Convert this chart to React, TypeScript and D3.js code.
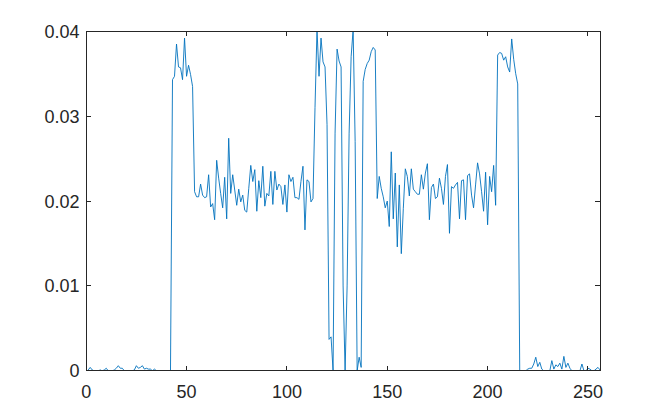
import React from "react";
import * as d3 from "d3";

// Series values for x = 1..256
const headValues = [
  0.0001, 0.0004, 0.0001, 0, 0, 0, 0.0001, 0, 0.0001, 0.0003,
  0, 0, 0, 0.0001, 0.0003, 0.0006, 0.0003, 0.0003, 0, 0,
  0, 0, 0, 0.0001, 0.0006, 0.0003, 0.0004, 0.0006, 0.0002, 0.0003,
  0.0002, 0.0002, 0, 0.0002, 0, 0, 0, 0, 0, 0,
  0, 0,
];
const highA = [0.0343, 0.0347, 0.0385, 0.0358, 0.0357, 0.0343, 0.0392, 0.0347, 0.036, 0.0349, 0.0335];
const noiseA = [
  0.0211, 0.0205, 0.0205, 0.022, 0.0207, 0.0204, 0.0205, 0.0231, 0.0193, 0.0197,
  0.0178, 0.0248, 0.0227, 0.0209, 0.0192, 0.0228, 0.0179, 0.0274, 0.0209, 0.0231,
  0.0213, 0.0195, 0.0214, 0.0199, 0.0207, 0.0189, 0.0187, 0.0215, 0.0242, 0.0223,
  0.0237, 0.0188, 0.0224, 0.0204, 0.0241, 0.0194, 0.0209, 0.0206, 0.0235, 0.0196,
  0.0235, 0.0213, 0.022, 0.0217, 0.0196, 0.0219, 0.0187, 0.0231, 0.0223, 0.0228,
  0.0204, 0.0204, 0.0202, 0.0223, 0.0241, 0.0166, 0.0225, 0.0223, 0.0199, 0.0203,
];
const middleValues = [
  0.031, 0.0402, 0.0347, 0.0392, 0.0364, 0.0358, 0.029, 0.0037, 0.004, 0.0,
  0.028, 0.0379, 0.0365, 0.0358, 0.01, 0.0, 0.01, 0.028, 0.037, 0.0402,
  0.027, 0.0, 0.0016, 0.0004, 0.0341, 0.0355, 0.0362, 0.0366, 0.0376, 0.0381,
  0.0378,
];
const noiseB = [
  0.0203, 0.0229, 0.0215, 0.0205, 0.0192, 0.02, 0.017, 0.0258, 0.0179, 0.0233,
  0.0146, 0.0219, 0.0138, 0.0191, 0.0238, 0.0229, 0.0206, 0.0238, 0.0214, 0.0211,
  0.0208, 0.0208, 0.0231, 0.0214, 0.0233, 0.0244, 0.0178, 0.0216, 0.022, 0.0203,
  0.0205, 0.0227, 0.0215, 0.0196, 0.0229, 0.0243, 0.0162, 0.0217, 0.0215, 0.0219,
  0.0222, 0.0179, 0.0224, 0.0225, 0.0178, 0.023, 0.0232, 0.0207, 0.0192, 0.0219,
  0.0245, 0.0232, 0.0211, 0.0188, 0.0234, 0.0172, 0.0229, 0.0211, 0.0242, 0.0195,
];
const highB = [0.0372, 0.0375, 0.0374, 0.0366, 0.037, 0.0358, 0.0352, 0.0391, 0.0367, 0.035, 0.0338];
const tailValues = [
  0, 0, 0, 0, 0.0002, 0.0003, 0.0003, 0.0008, 0.0016, 0.0005,
  0.001, 0.0002, 0, 0, 0, 0, 0.0012, 0.0002, 0.0007, 0.0005,
  0.0009, 0.0002, 0.0017, 0.0004, 0.0009, 0.0003, 0, 0, 0, 0,
  0, 0.0008, 0, 0, 0.0003, 0.0002, 0, 0, 0.0002, 0.0004,
  0.0001,
];

const values = [
  ...headValues, ...highA, ...noiseA, ...middleValues, ...noiseB, ...highB, ...tailValues,
];

const xTicks = [0, 50, 100, 150, 200, 250];
const yTicks = [0, 0.01, 0.02, 0.03, 0.04];
const yTickLabels = ["0", "0.01", "0.02", "0.03", "0.04"];

const W = 663;
const H = 417;
const left = 86.2;
const right = 600.0;
const top = 31.3;
const bottom = 370.8;
const axisColor = "#262626";
const lineColor = "#0072BD";
const font = "'Liberation Sans', Arial, Helvetica, sans-serif";
const fontSize = 18;

export default function App() {
  const x = d3.scaleLinear().domain([0, 256]).range([left, right]);
  const y = d3.scaleLinear().domain([0, 0.04]).range([bottom, top]);
  const pts = values.map((v, i) => [i + 1, v] as [number, number]);
  const path = d3
    .line<[number, number]>()
    .x((d) => x(d[0]))
    .y((d) => y(d[1]))(pts) as string;
  const tl = 5;

  return (
    <svg
      width={W}
      height={H}
      style={{ position: "absolute", left: 0, top: 0, background: "#fff" }}
    >
      <rect x={0} y={0} width={W} height={H} fill="#fff" />
      <defs>
        <clipPath id="plotclip">
          <rect x={left} y={top} width={right - left} height={bottom - top} />
        </clipPath>
      </defs>
      <path
        d={path}
        fill="none"
        stroke={lineColor}
        strokeWidth={0.9}
        strokeLinejoin="round"
        clipPath="url(#plotclip)"
      />
      <rect
        x={left}
        y={top}
        width={right - left}
        height={bottom - top}
        fill="none"
        stroke={axisColor}
        strokeWidth={1}
        shapeRendering="crispEdges"
      />
      {xTicks.map((t) => (
        <g key={"x" + t}>
          <line x1={x(t)} x2={x(t)} y1={bottom} y2={bottom - tl} stroke={axisColor} shapeRendering="crispEdges" />
          <line x1={x(t)} x2={x(t)} y1={top} y2={top + tl} stroke={axisColor} shapeRendering="crispEdges" />
          <text
            x={x(t)}
            y={397.5}
            textAnchor="middle"
            fontFamily={font}
            fontSize={fontSize}
            fill={axisColor}
          >
            {t}
          </text>
        </g>
      ))}
      {yTicks.map((t, i) => (
        <g key={"y" + t}>
          <line x1={left} x2={left + tl} y1={y(t)} y2={y(t)} stroke={axisColor} shapeRendering="crispEdges" />
          <line x1={right} x2={right - tl} y1={y(t)} y2={y(t)} stroke={axisColor} shapeRendering="crispEdges" />
          <text
            x={79.5}
            y={y(t) + 6.5}
            textAnchor="end"
            fontFamily={font}
            fontSize={fontSize}
            fill={axisColor}
          >
            {yTickLabels[i]}
          </text>
        </g>
      ))}
    </svg>
  );
}
